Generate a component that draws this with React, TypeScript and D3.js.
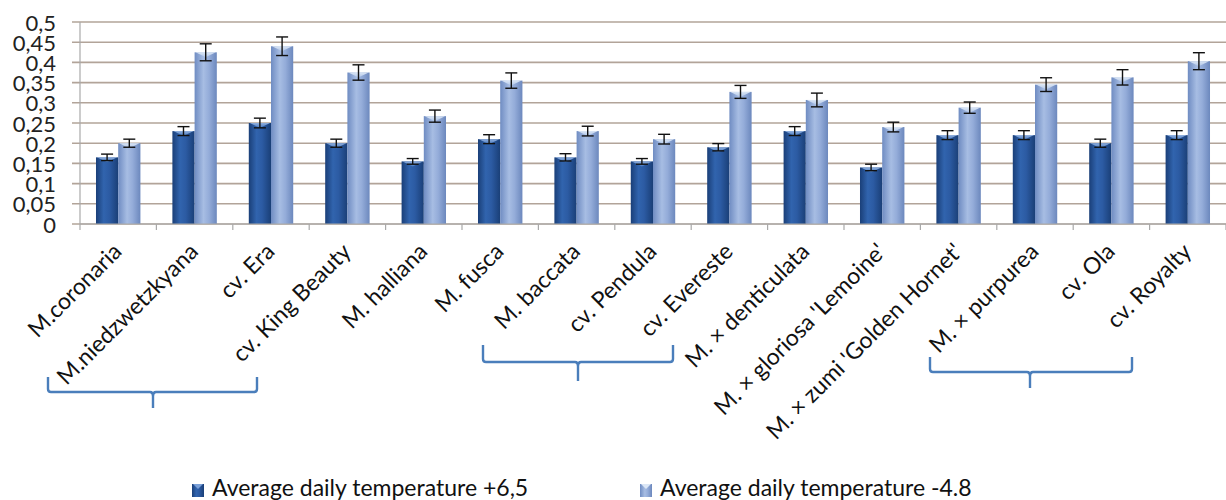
import React from "react";
import * as d3 from "d3";

// Cultivar / species names along the x axis
const categories = [
  "M.coronaria",
  "M.niedzwetzkyana",
  "cv. Era",
  "cv. King Beauty",
  "M. halliana",
  "M. fusca",
  "M. baccata",
  "cv. Pendula",
  "cv. Evereste",
  "M. × denticulata",
  "M. × gloriosa 'Lemoine'",
  "M. × zumi 'Golden Hornet'",
  "M. × purpurea",
  "cv. Ola",
  "cv. Royalty",
];

// Series: average daily temperature +6,5
const warmValues = [0.165, 0.23, 0.25, 0.2, 0.155, 0.21, 0.165, 0.155, 0.19, 0.23, 0.14, 0.22, 0.22, 0.2, 0.22];
const warmErrors = [0.008, 0.011, 0.012, 0.01, 0.007, 0.011, 0.009, 0.007, 0.009, 0.011, 0.008, 0.011, 0.011, 0.01, 0.011];

// Series: average daily temperature -4.8
const coldValues = [0.2, 0.425, 0.44, 0.375, 0.267, 0.355, 0.23, 0.21, 0.327, 0.307, 0.24, 0.288, 0.345, 0.363, 0.403];
const coldErrors = [0.01, 0.021, 0.023, 0.019, 0.015, 0.019, 0.012, 0.012, 0.016, 0.017, 0.012, 0.014, 0.017, 0.019, 0.021];

const seriesNames = ["Average daily temperature +6,5", "Average daily temperature -4.8"];
const yTicks = [0, 0.05, 0.1, 0.15, 0.2, 0.25, 0.3, 0.35, 0.4, 0.45, 0.5];

// Groups of categories marked with a brace under the labels (first, last index)
const braceGroups = [
  [0, 2],
  [6, 8],
  [12, 14],
];

const W = 1226;
const H = 500;
const FONT = "Lato, 'Open Sans', sans-serif";

export default function App() {
  const x = d3.scaleBand<string>().domain(categories).range([80, W]).paddingInner(0).paddingOuter(0);
  const inner = d3
    .scaleBand<string>()
    .domain(["warm", "cold"])
    .range([0, x.bandwidth()])
    .paddingInner(0)
    .paddingOuter(0.72);
  const y = d3.scaleLinear().domain([0, 0.5]).range([224, 22]);
  const fmt = (v: number) => d3.format(".2~f")(v).replace(".", ",");

  const rows = categories.map((c, i) => ({
    c,
    bars: [
      { key: "warm", v: warmValues[i], e: warmErrors[i] },
      { key: "cold", v: coldValues[i], e: coldErrors[i] },
    ],
  }));

  // Brace layout below the rotated labels
  const braceShapes = [
    { l: 48, r: 257, top: 377, mid: 392, bottom: 408, cx: 153 },
    { l: 483, r: 673, top: 345, mid: 362, bottom: 381, cx: 578 },
    { l: 930, r: 1132, top: 357, mid: 372, bottom: 388, cx: 1030 },
  ];

  const bracePath = (b: { l: number; r: number; top: number; mid: number; bottom: number; cx: number }) =>
    `M${b.l},${b.top} V${b.mid - 3} Q${b.l},${b.mid} ${b.l + 3},${b.mid} H${b.cx - 3} Q${b.cx},${b.mid} ${b.cx},${b.mid + 4} V${b.bottom} ` +
    `M${b.cx},${b.mid + 4} Q${b.cx},${b.mid} ${b.cx + 3},${b.mid} H${b.r - 3} Q${b.r},${b.mid} ${b.r},${b.mid - 3} V${b.top}`;

  const barW = inner.bandwidth();
  const ticksX = categories.map((c) => x(c)!).concat([W]);

  return (
    <svg
      width={W}
      height={H}
      style={{ position: "absolute", left: 0, top: 0, background: "#fff" }}
      fontFamily={FONT}
    >
      <defs>
        <linearGradient id="gWarm" x1="0" x2="1" y1="0" y2="0">
          <stop offset="0" stopColor="#1a3f78" />
          <stop offset="0.35" stopColor="#3164ae" />
          <stop offset="0.6" stopColor="#2c5ba3" />
          <stop offset="1" stopColor="#1a3f77" />
        </linearGradient>
        <linearGradient id="gCold" x1="0" x2="1" y1="0" y2="0">
          <stop offset="0" stopColor="#6f8cc2" />
          <stop offset="0.4" stopColor="#a7bde3" />
          <stop offset="0.65" stopColor="#94acd9" />
          <stop offset="1" stopColor="#6c88bd" />
        </linearGradient>
        <linearGradient id="gWarmCap" x1="0" x2="0" y1="0" y2="1">
          <stop offset="0" stopColor="#9ab8e4" />
          <stop offset="1" stopColor="#4a7cc2" />
        </linearGradient>
        <linearGradient id="gColdCap" x1="0" x2="0" y1="0" y2="1">
          <stop offset="0" stopColor="#e2ecf8" />
          <stop offset="1" stopColor="#b2c7e8" />
        </linearGradient>
      </defs>

      {/* horizontal gridlines */}
      {yTicks.map((t) => (
        <line key={"g" + t} x1={72} x2={W} y1={y(t)} y2={y(t)} stroke="#b2a499" strokeWidth={1.6} />
      ))}

      {/* y axis line */}
      <line x1={80} x2={80} y1={y(0.5)} y2={y(0)} stroke="#a9a9a9" strokeWidth={1.2} />

      {/* y tick labels */}
      {yTicks.map((t) => (
        <text
          key={"yl" + t}
          x={56}
          y={y(t)}
          textAnchor="end"
          dominantBaseline="central"
          fontSize={22}
          fill="#222"
        >
          {fmt(t)}
        </text>
      ))}

      {/* bars */}
      {rows.map((row) => (
        <g key={row.c} transform={`translate(${x(row.c)},0)`}>
          {row.bars.map((b) => {
            const bx = inner(b.key)!;
            const top = y(b.v);
            const warm = b.key === "warm";
            return (
              <g key={b.key}>
                <rect
                  x={bx}
                  y={top}
                  width={barW}
                  height={y(0) - top}
                  fill={warm ? "url(#gWarm)" : "url(#gCold)"}
                />
                <path
                  d={`M${bx + 1},${top} L${bx + barW / 2},${top + 5} L${bx + barW - 1},${top} Z`}
                  fill={warm ? "url(#gWarmCap)" : "url(#gColdCap)"}
                  opacity={0.9}
                />
              </g>
            );
          })}
        </g>
      ))}

      {/* error bars */}
      {rows.map((row) =>
        row.bars.map((b) => {
          const cx = x(row.c)! + inner(b.key)! + barW / 2;
          const y1 = y(b.v + b.e);
          const y2 = y(b.v - b.e);
          return (
            <g key={row.c + b.key + "e"} stroke="#111" strokeWidth={1.4}>
              <line x1={cx} x2={cx} y1={y1} y2={y2} />
              <line x1={cx - 6} x2={cx + 6} y1={y1} y2={y1} />
              <line x1={cx - 6} x2={cx + 6} y1={y2} y2={y2} />
            </g>
          );
        })
      )}

      {/* x axis line and ticks */}
      <line x1={80} x2={W} y1={y(0)} y2={y(0)} stroke="#a9a9a9" strokeWidth={1.2} />
      {ticksX.map((t, i) => (
        <line key={"xt" + i} x1={t} x2={t} y1={y(0)} y2={y(0) + 6} stroke="#a9a9a9" strokeWidth={1.2} />
      ))}

      {/* category labels */}
      {categories.map((c) => {
        const ax = x(c)! + x.bandwidth() / 2 + 5;
        const ay = 253;
        return (
          <text
            key={"xl" + c}
            x={ax}
            y={ay}
            textAnchor="end"
            fontSize={23}
            fill="#111"
            transform={`rotate(-45 ${ax} ${ay})`}
          >
            {c}
          </text>
        );
      })}

      {/* braces */}
      {braceGroups.map((g, i) => (
        <path
          key={"br" + i}
          d={bracePath(braceShapes[i])}
          fill="none"
          stroke="#4a7ebb"
          strokeWidth={2.4}
          data-first={categories[g[0]]}
        />
      ))}

      {/* legend */}
      {seriesNames.map((s, i) => {
        const lx = i === 0 ? 192 : 640;
        return (
          <g key={"lg" + s} transform={`translate(${lx},0)`}>
            <rect x={0} y={484} width={12} height={13} fill={i === 0 ? "url(#gWarm)" : "url(#gCold)"} />
            <path d={`M1,484 L6,489 L11,484 Z`} fill={i === 0 ? "#7aa0d8" : "#dce7f6"} />
            <text x={20} y={496} fontSize={23} fill="#111">
              {s}
            </text>
          </g>
        );
      })}
    </svg>
  );
}
